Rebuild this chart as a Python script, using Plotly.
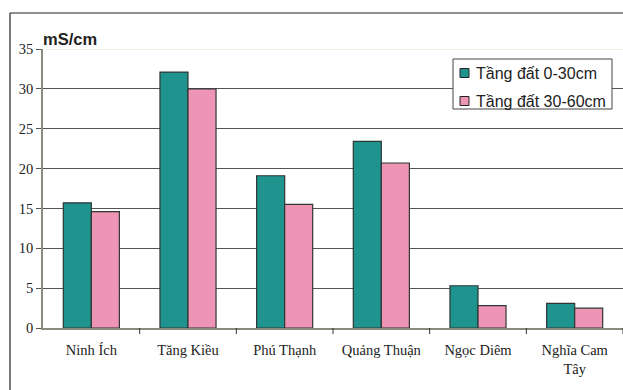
import plotly.graph_objects as go

# Electrical conductivity by site and soil layer
sites = ["Ninh Ích", "Tăng Kiều", "Phú Thạnh", "Quảng Thuận", "Ngọc Diêm", "Nghĩa Cam<br>Tây"]
layer_0_30 = [15.7, 32.1, 19.1, 23.4, 5.3, 3.1]
layer_30_60 = [14.6, 30.0, 15.5, 20.7, 2.8, 2.5]
series_names = ["Tầng đất 0-30cm", "Tầng đất 30-60cm"]
series_colors = ["#1f948f", "#ee95b6"]
y_ticks = [0, 5, 10, 15, 20, 25, 30, 35]

W, H = 623, 390
L, R, T, B = 43, 0, 49, 62
pw, ph = W - L - R, H - T - B


def px_x(x):
    return (x - L) / pw


def px_y(y):
    return (H - B - y) / ph


fig = go.Figure()
for name, vals, col in zip(series_names, [layer_0_30, layer_30_60], series_colors):
    fig.add_trace(go.Bar(
        x=sites, y=vals, name=name,
        marker=dict(color=col, line=dict(color="#2e3634", width=1.2)),
    ))

shapes = [
    # outer frame (top and left)
    dict(type="line", xref="paper", yref="paper",
         x0=px_x(10), x1=px_x(W + 5), y0=px_y(13), y1=px_y(13),
         line=dict(color="#222", width=1.2)),
    dict(type="line", xref="paper", yref="paper",
         x0=px_x(10), x1=px_x(10), y0=px_y(13), y1=px_y(H + 5),
         line=dict(color="#222", width=1.2)),
    # pale top gridline at 35
    dict(type="line", xref="paper", yref="y",
         x0=0, x1=1, y0=35, y1=35, line=dict(color="#e8e4cc", width=1)),
    # legend box
    dict(type="rect", xref="paper", yref="paper",
         x0=px_x(453), x1=px_x(612), y0=px_y(59), y1=px_y(109),
         fillcolor="white", line=dict(color="#444", width=1), layer="above"),
]
# category boundary tick marks below the x axis
for i in range(1, len(sites) + 1):
    shapes.append(dict(type="line", xref="x", yref="paper",
                       x0=i - 0.5, x1=i - 0.5, y0=0, y1=-6 / ph,
                       line=dict(color="#333", width=1)))

annotations = [dict(
    text="<b>mS/cm</b>", xref="paper", yref="paper",
    x=px_x(41), y=px_y(50), xanchor="left", yanchor="bottom",
    showarrow=False, font=dict(family="Liberation Sans", size=16.5, color="#222"),
)]

# legend entries: swatch plus label
for k, (name, col) in enumerate(zip(series_names, series_colors)):
    cy = 73 + 28 * k
    shapes.append(dict(type="rect", xref="paper", yref="paper",
                       x0=px_x(460), x1=px_x(469), y0=px_y(cy - 4.5), y1=px_y(cy + 4.5),
                       fillcolor=col, line=dict(color="#222", width=1), layer="above"))
    annotations.append(dict(
        text=name, xref="paper", yref="paper",
        x=px_x(474), y=px_y(cy), xanchor="left", yanchor="middle",
        showarrow=False, font=dict(family="Liberation Sans", size=16, color="#222"),
    ))

fig.update_layout(
    width=W, height=H,
    margin=dict(l=L, r=R, t=T, b=B),
    paper_bgcolor="white", plot_bgcolor="white",
    barmode="group", bargap=0.42, bargroupgap=0,
    font=dict(family="Liberation Serif", size=14.5, color="#222"),
    showlegend=False,
    xaxis=dict(
        showline=True, linecolor="#8c8a7a", linewidth=1.5,
        ticks="", showgrid=False, tickfont=dict(size=14.5),
        ticklabelstandoff=8,
        range=[-0.5, len(sites) - 0.5],
    ),
    yaxis=dict(
        range=[0, 35], tickvals=y_ticks, showline=True,
        linecolor="#8c8a7a", linewidth=1.5,
        ticks="outside", ticklen=5, tickcolor="#555",
        showgrid=True, gridcolor="#555", gridwidth=1,
        tickfont=dict(size=14.5), zeroline=False,
    ),
    shapes=shapes,
    annotations=annotations,
)

fig.write_html("out.html")
